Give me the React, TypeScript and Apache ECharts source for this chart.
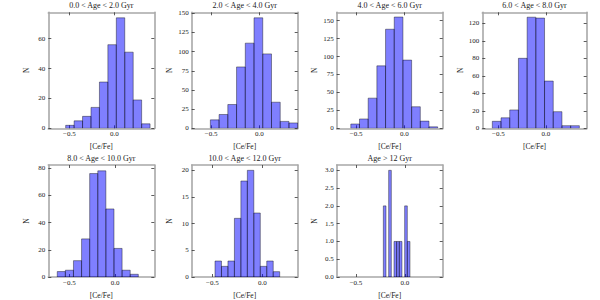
import React, { useEffect, useRef } from "react";
import * as echarts from "echarts";

const titles = [
  "0.0 < Age < 2.0 Gyr",
  "2.0 < Age < 4.0 Gyr",
  "4.0 < Age < 6.0 Gyr",
  "6.0 < Age < 8.0 Gyr",
  "8.0 < Age < 10.0 Gyr",
  "10.0 < Age < 12.0 Gyr",
  "Age > 12 Gyr",
];

// histogram counts per age bin
const counts0 = [2, 5, 8, 14, 31, 56, 74, 51, 19, 3];
const counts1 = [11, 18, 31, 80, 111, 144, 97, 34, 9, 7];
const counts2 = [6, 13, 42, 87, 138, 155, 95, 30, 10, 2];
const counts3 = [8, 12, 21, 80, 127, 126, 54, 19, 3, 3];
const counts4 = [4, 5, 12, 28, 76, 78, 50, 21, 5, 2];
const counts5 = [3, 2, 3, 11, 18, 20, 12, 2, 3, 1];
const counts6 = [2, 0, 3, 0, 1, 1, 1, 0, 2, 1];
const allCounts = [counts0, counts1, counts2, counts3, counts4, counts5, counts6];

// first bin edge and bin width of each histogram ([Ce/Fe])
const binStarts = [-0.54, -0.507, -0.554, -0.563, -0.632, -0.473, -0.221];
const binWidths = [0.0937, 0.0904, 0.0899, 0.0913, 0.0887, 0.0647, 0.0272];

// axis ranges
const xMins = [-0.733, -0.7, -0.7, -0.668, -0.73, -0.706, -0.697];
const xMaxs = [0.444, 0.397, 0.397, 0.427, 0.43, 0.354, 0.385];
const yMaxs = [77.7, 151.2, 161.6, 132.6, 82.3, 21.0, 3.15];

const xTicks = [-0.5, 0.0];
const yTicks0 = [0, 20, 40, 60];
const yTicks1 = [0, 25, 50, 75, 100, 125, 150];
const yTicks2 = [0, 25, 50, 75, 100, 125, 150];
const yTicks3 = [0, 20, 40, 60, 80, 100, 120];
const yTicks4 = [0, 20, 40, 60, 80];
const yTicks5 = [0, 5, 10, 15, 20];
const yTicks6 = [0, 0.5, 1.0, 1.5, 2.0, 2.5, 3.0];
const allYTicks = [yTicks0, yTicks1, yTicks2, yTicks3, yTicks4, yTicks5, yTicks6];

// layout of panels (px)
const gridRects = [
  { left: 48.3, top: 12.3, width: 106, height: 116 },
  { left: 191.7, top: 12.3, width: 106, height: 116 },
  { left: 336.7, top: 12.3, width: 106, height: 116 },
  { left: 482.3, top: 12.3, width: 104.4, height: 116 },
  { left: 48.3, top: 165, width: 106, height: 116.7 },
  { left: 191.7, top: 165, width: 106, height: 116.7 },
  { left: 336.7, top: 165, width: 106, height: 116.7 },
];

const FONT = "Liberation Serif";
const FRAME = "#a8a8a8";
const TICK = "#333333";

function fmtX(v: number) {
  const s = Math.abs(v).toFixed(1);
  return v < 0 ? "\u2212" + s : s;
}

export default function App() {
  const ref = useRef<HTMLDivElement>(null);
  useEffect(() => {
    if (!ref.current) return;
    const chart = echarts.init(ref.current, undefined, { renderer: "svg" });
    const grid: any[] = [];
    const xAxis: any[] = [];
    const yAxis: any[] = [];
    const series: any[] = [];
    const title: any[] = [];
    allCounts.forEach((counts, i) => {
      const r = gridRects[i];
      grid.push({ left: r.left, top: r.top, width: r.width, height: r.height, containLabel: false });
      title.push({
        text: titles[i],
        left: r.left + r.width / 2,
        top: r.top - 10.5,
        padding: 0,
        textAlign: "center",
        textStyle: { fontFamily: FONT, fontSize: 8, fontWeight: "normal", color: "#222" },
      });
      const frameLine = { show: true, onZero: false, lineStyle: { color: FRAME, width: 1.6 } };
      const yt = allYTicks[i];
      const yDec = i === 6 ? 1 : 0;
      xAxis.push({
        type: "value", gridIndex: i, position: "bottom", min: xMins[i], max: xMaxs[i],
        axisLine: frameLine,
        axisTick: { show: true, inside: true, length: 3, customValues: xTicks, lineStyle: { color: TICK, width: 0.8 } },
        axisLabel: { show: true, customValues: xTicks, formatter: (v: number) => fmtX(v), fontFamily: FONT, fontSize: 7, color: "#222", margin: 2 },
        splitLine: { show: false },
        name: "[Ce/Fe]", nameLocation: "middle", nameGap: 14,
        nameTextStyle: { fontFamily: FONT, fontSize: 7.5, color: "#222" },
      });
      xAxis.push({
        type: "value", gridIndex: i, position: "top", min: xMins[i], max: xMaxs[i],
        axisLine: frameLine,
        axisTick: { show: true, inside: true, length: 3, customValues: xTicks, lineStyle: { color: TICK, width: 0.8 } },
        axisLabel: { show: false },
        splitLine: { show: false },
      });
      yAxis.push({
        type: "value", gridIndex: i, position: "left", min: 0, max: yMaxs[i],
        axisLine: frameLine,
        axisTick: { show: true, inside: true, length: 3, customValues: yt, lineStyle: { color: TICK, width: 0.8 } },
        axisLabel: { show: true, customValues: yt, formatter: (v: number) => v.toFixed(yDec), fontFamily: FONT, fontSize: 7, color: "#222", margin: 3 },
        splitLine: { show: false },
        name: "N", nameLocation: "middle", nameGap: 18, nameRotate: 90,
        nameTextStyle: { fontFamily: FONT, fontSize: 7.5, color: "#222" },
      });
      yAxis.push({
        type: "value", gridIndex: i, position: "right", min: 0, max: yMaxs[i],
        axisLine: frameLine,
        axisTick: { show: true, inside: true, length: 3, customValues: yt, lineStyle: { color: TICK, width: 0.8 } },
        axisLabel: { show: false },
        splitLine: { show: false },
      });
      const data: number[][] = [];
      counts.forEach((c, k) => {
        if (c > 0) {
          const x0 = binStarts[i] + k * binWidths[i];
          data.push([x0, x0 + binWidths[i], c]);
        }
      });
      series.push({
        type: "custom",
        xAxisIndex: i * 2,
        yAxisIndex: i * 2,
        clip: true,
        encode: { x: [0, 1], y: 2 },
        data,
        z: 1,
        renderItem: (params: any, api: any) => {
          const p0 = api.coord([api.value(0), api.value(2)]);
          const p1 = api.coord([api.value(1), 0]);
          return {
            type: "rect",
            shape: { x: p0[0], y: p0[1], width: p1[0] - p0[0], height: p1[1] - p0[1] },
            style: { fill: "rgba(0,0,255,0.5)", stroke: "rgba(0,0,0,0.5)", lineWidth: 0.8 },
          };
        },
      });
    });
    chart.setOption({
      animation: false,
      backgroundColor: "#ffffff",
      title,
      grid,
      xAxis,
      yAxis,
      series,
    });
    return () => chart.dispose();
  }, []);
  return (
    <div
      ref={ref}
      style={{ position: "fixed", left: 0, top: 0, width: 600, height: 300 }}
    />
  );
}
